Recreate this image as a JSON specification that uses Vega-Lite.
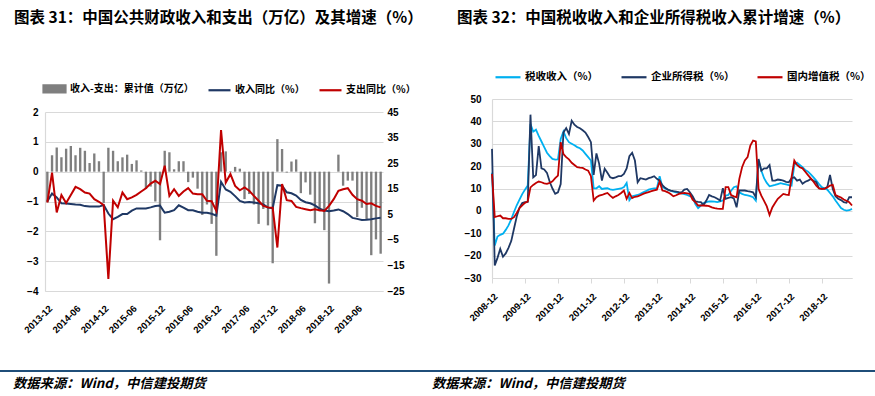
{
  "$schema": "https://vega.github.io/schema/vega-lite/v6.json",
  "padding": {"top": 10, "left": 0, "right": 0, "bottom": 0},
  "background": "white",
  "config": {
    "font": "Noto Sans CJK SC",
    "view": {"stroke": null},
    "axis": {"labelFont": "Liberation Sans", "labelFontWeight": "bold", "labelColor": "#000000", "labelFontSize": 10, "gridColor": "#D9D9D9", "gridWidth": 1.2, "domainColor": "#D9D9D9", "domainWidth": 1.2, "tickColor": "#D9D9D9"},
    "title": {"font": "Noto Sans CJK SC", "fontWeight": "bold", "fontSize": 15.5, "color": "#000000"},
    "legend": {"labelFont": "Noto Sans CJK SC", "labelFontWeight": "bold", "labelColor": "#000000"}
  },
  "datasets": {
    "L": [
      {"m":"2013-12","bar":-1.02,"rev":10.1,"exp":9.6},
      {"m":"2014-01","bar":0.55,"rev":13.1,"exp":21.3},
      {"m":"2014-02","bar":0.81,"rev":11.6,"exp":5.7},
      {"m":"2014-03","bar":0.48,"rev":9.3,"exp":12.5},
      {"m":"2014-04","bar":0.77,"rev":9.2,"exp":9.4},
      {"m":"2014-05","bar":0.86,"rev":9.0,"exp":12.5},
      {"m":"2014-06","bar":0.55,"rev":8.8,"exp":15.7},
      {"m":"2014-07","bar":0.8,"rev":8.7,"exp":14.8},
      {"m":"2014-08","bar":0.7,"rev":8.2,"exp":13.5},
      {"m":"2014-09","bar":0.29,"rev":8.0,"exp":13.1},
      {"m":"2014-10","bar":0.61,"rev":8.0,"exp":10.9},
      {"m":"2014-11","bar":0.35,"rev":8.0,"exp":9.9},
      {"m":"2014-12","bar":-1.05,"rev":8.6,"exp":8.6},
      {"m":"2015-01","bar":0.8,"rev":5.3,"exp":-20.3},
      {"m":"2015-02","bar":0.7,"rev":3.1,"exp":10.3},
      {"m":"2015-03","bar":0.35,"rev":4.0,"exp":7.7},
      {"m":"2015-04","bar":0.48,"rev":5.1,"exp":13.5},
      {"m":"2015-05","bar":0.57,"rev":5.1,"exp":10.9},
      {"m":"2015-06","bar":0.26,"rev":6.4,"exp":11.6},
      {"m":"2015-07","bar":0.38,"rev":7.3,"exp":12.6},
      {"m":"2015-08","bar":0.04,"rev":7.3,"exp":13.9},
      {"m":"2015-09","bar":-0.58,"rev":7.3,"exp":15.2},
      {"m":"2015-10","bar":-0.5,"rev":7.7,"exp":17.0},
      {"m":"2015-11","bar":-1.0,"rev":8.2,"exp":18.1},
      {"m":"2015-12","bar":-2.3,"rev":8.4,"exp":16.8},
      {"m":"2016-01","bar":0.7,"rev":5.6,"exp":24.0},
      {"m":"2016-02","bar":0.65,"rev":6.0,"exp":12.2},
      {"m":"2016-03","bar":0.08,"rev":6.6,"exp":14.8},
      {"m":"2016-04","bar":0.35,"rev":8.5,"exp":12.2},
      {"m":"2016-05","bar":0.35,"rev":7.6,"exp":13.9},
      {"m":"2016-06","bar":-0.35,"rev":6.6,"exp":15.2},
      {"m":"2016-07","bar":-0.2,"rev":6.6,"exp":13.1},
      {"m":"2016-08","bar":-0.57,"rev":6.0,"exp":12.8},
      {"m":"2016-09","bar":-1.45,"rev":5.6,"exp":12.8},
      {"m":"2016-10","bar":-1.1,"rev":5.6,"exp":10.3},
      {"m":"2016-11","bar":-1.75,"rev":5.2,"exp":10.1},
      {"m":"2016-12","bar":-2.82,"rev":4.5,"exp":6.3},
      {"m":"2017-01","bar":0.65,"rev":17.7,"exp":37.9},
      {"m":"2017-02","bar":0.68,"rev":14.7,"exp":17.4},
      {"m":"2017-03","bar":0.02,"rev":13.8,"exp":20.7},
      {"m":"2017-04","bar":0.16,"rev":12.1,"exp":16.1},
      {"m":"2017-05","bar":0.1,"rev":10.2,"exp":14.4},
      {"m":"2017-06","bar":-0.92,"rev":9.6,"exp":15.5},
      {"m":"2017-07","bar":-0.75,"rev":9.8,"exp":14.2},
      {"m":"2017-08","bar":-1.1,"rev":9.6,"exp":12.2},
      {"m":"2017-09","bar":-1.75,"rev":9.3,"exp":10.3},
      {"m":"2017-10","bar":-1.25,"rev":8.9,"exp":8.3},
      {"m":"2017-11","bar":-1.8,"rev":7.6,"exp":7.7},
      {"m":"2017-12","bar":-3.07,"rev":7.4,"exp":7.6},
      {"m":"2018-01","bar":1.09,"rev":16.4,"exp":-8.0},
      {"m":"2018-02","bar":0.76,"rev":16.2,"exp":16.8},
      {"m":"2018-03","bar":-0.03,"rev":13.6,"exp":10.5},
      {"m":"2018-04","bar":0.34,"rev":13.2,"exp":10.2},
      {"m":"2018-05","bar":0.41,"rev":12.3,"exp":7.9},
      {"m":"2018-06","bar":-0.72,"rev":10.6,"exp":7.4},
      {"m":"2018-07","bar":-0.36,"rev":9.7,"exp":7.0},
      {"m":"2018-08","bar":-0.77,"rev":9.3,"exp":6.6},
      {"m":"2018-09","bar":-1.73,"rev":8.5,"exp":7.0},
      {"m":"2018-10","bar":-1.33,"rev":7.2,"exp":6.6},
      {"m":"2018-11","bar":-1.96,"rev":6.5,"exp":6.3},
      {"m":"2018-12","bar":-3.75,"rev":6.2,"exp":8.3},
      {"m":"2019-01","bar":0.0,"rev":6.5,"exp":10.9},
      {"m":"2019-02","bar":0.57,"rev":6.9,"exp":14.2},
      {"m":"2019-03","bar":-0.47,"rev":6.2,"exp":14.8},
      {"m":"2019-04","bar":-0.3,"rev":5.1,"exp":15.2},
      {"m":"2019-05","bar":-0.3,"rev":3.6,"exp":12.6},
      {"m":"2019-06","bar":-1.52,"rev":3.2,"exp":10.9},
      {"m":"2019-07","bar":-1.21,"rev":2.8,"exp":10.3},
      {"m":"2019-08","bar":-1.6,"rev":2.9,"exp":9.0},
      {"m":"2019-09","bar":-2.8,"rev":3.1,"exp":9.3},
      {"m":"2019-10","bar":-2.27,"rev":3.4,"exp":8.3},
      {"m":"2019-11","bar":-2.75,"rev":3.6,"exp":7.7}
    ],
    "R": [
      {"d":"2008-12","tax":17,"cit":27.7,"vat":16.5},
      {"d":"2009-01","tax":-15.5,"cit":-24.4,"vat":-2.8},
      {"d":"2009-02","tax":-11.5,"cit":-21,"vat":-2.4},
      {"d":"2009-03","tax":-10.7,"cit":-17,"vat":-2.1},
      {"d":"2009-04","tax":-10.2,"cit":-20.5,"vat":-3.3},
      {"d":"2009-05","tax":-8.5,"cit":-19,"vat":-3.3},
      {"d":"2009-06","tax":-6.5,"cit":-16.5,"vat":-3.6},
      {"d":"2009-07","tax":-3.8,"cit":-13.5,"vat":-3.6},
      {"d":"2009-08","tax":-0.5,"cit":-8,"vat":-2.8},
      {"d":"2009-09","tax":2.5,"cit":-2.5,"vat":-0.9},
      {"d":"2009-10","tax":5,"cit":1.5,"vat":1.2},
      {"d":"2009-11","tax":7.5,"cit":3.5,"vat":2.5},
      {"d":"2009-12","tax":9.5,"cit":3.9,"vat":3.6},
      {"d":"2010-01","tax":11.3,"cit":4,"vat":4.2},
      {"d":"2010-02","tax":38.8,"cit":43,"vat":10.5},
      {"d":"2010-03","tax":35.4,"cit":15,"vat":11.6},
      {"d":"2010-04","tax":36.3,"cit":16,"vat":12.5},
      {"d":"2010-05","tax":33.5,"cit":29,"vat":13.1},
      {"d":"2010-06","tax":31,"cit":19,"vat":12.8},
      {"d":"2010-07","tax":28.5,"cit":18.5,"vat":12.3},
      {"d":"2010-08","tax":26,"cit":17,"vat":12.1},
      {"d":"2010-09","tax":24.5,"cit":13,"vat":12.5},
      {"d":"2010-10","tax":23.2,"cit":10,"vat":13.2},
      {"d":"2010-11","tax":22.9,"cit":7.6,"vat":14.6},
      {"d":"2010-12","tax":23,"cit":8.3,"vat":15.8},
      {"d":"2011-01","tax":32.1,"cit":12,"vat":30.7},
      {"d":"2011-02","tax":35.5,"cit":35,"vat":25.4},
      {"d":"2011-03","tax":32.5,"cit":37,"vat":24},
      {"d":"2011-04","tax":30.7,"cit":34.4,"vat":23},
      {"d":"2011-05","tax":30,"cit":40.3,"vat":21.5},
      {"d":"2011-06","tax":29.3,"cit":38.5,"vat":20.5},
      {"d":"2011-07","tax":28.5,"cit":37.5,"vat":19.5},
      {"d":"2011-08","tax":28,"cit":36.9,"vat":19.3},
      {"d":"2011-09","tax":27,"cit":36,"vat":19.2},
      {"d":"2011-10","tax":25.5,"cit":35,"vat":18.5},
      {"d":"2011-11","tax":24,"cit":33,"vat":18},
      {"d":"2011-12","tax":22.5,"cit":30.7,"vat":15.5},
      {"d":"2012-01","tax":10.1,"cit":16.1,"vat":4.6},
      {"d":"2012-02","tax":10.1,"cit":25.7,"vat":6.1},
      {"d":"2012-03","tax":11,"cit":21,"vat":6.8},
      {"d":"2012-04","tax":9.8,"cit":13.5,"vat":7.1},
      {"d":"2012-05","tax":10,"cit":18.8,"vat":7.6},
      {"d":"2012-06","tax":10.1,"cit":17,"vat":8},
      {"d":"2012-07","tax":9.6,"cit":15,"vat":6.8},
      {"d":"2012-08","tax":9.4,"cit":14.6,"vat":5.8},
      {"d":"2012-09","tax":9.6,"cit":15,"vat":6.5},
      {"d":"2012-10","tax":9.8,"cit":15.5,"vat":7.1},
      {"d":"2012-11","tax":10,"cit":15.5,"vat":8},
      {"d":"2012-12","tax":10.6,"cit":16.5,"vat":9.1},
      {"d":"2013-01","tax":12.5,"cit":19,"vat":5.4},
      {"d":"2013-02","tax":4.8,"cit":24.5,"vat":8},
      {"d":"2013-03","tax":6.5,"cit":26,"vat":5.7},
      {"d":"2013-04","tax":6.8,"cit":22.5,"vat":6.3},
      {"d":"2013-05","tax":7.1,"cit":12.8,"vat":6.5},
      {"d":"2013-06","tax":7.6,"cit":14.6,"vat":7},
      {"d":"2013-07","tax":8.3,"cit":14.3,"vat":7.6},
      {"d":"2013-08","tax":8.8,"cit":14,"vat":8},
      {"d":"2013-09","tax":9.5,"cit":14.6,"vat":8.4},
      {"d":"2013-10","tax":9.8,"cit":15,"vat":8.8},
      {"d":"2013-11","tax":10,"cit":15.5,"vat":9.2},
      {"d":"2013-12","tax":10.1,"cit":14.3,"vat":9.5},
      {"d":"2014-01","tax":15.5,"cit":13.5,"vat":13.1},
      {"d":"2014-02","tax":10.6,"cit":11.5,"vat":9.1},
      {"d":"2014-03","tax":10,"cit":10.3,"vat":8.8},
      {"d":"2014-04","tax":9.5,"cit":9.5,"vat":8.3},
      {"d":"2014-05","tax":9,"cit":9.1,"vat":7.5},
      {"d":"2014-06","tax":8.6,"cit":8.8,"vat":6.5},
      {"d":"2014-07","tax":8.3,"cit":8.6,"vat":7},
      {"d":"2014-08","tax":8,"cit":8.4,"vat":7.6},
      {"d":"2014-09","tax":7.8,"cit":8.3,"vat":7.8},
      {"d":"2014-10","tax":7.5,"cit":9.5,"vat":8},
      {"d":"2014-11","tax":7.1,"cit":9.8,"vat":7.8},
      {"d":"2014-12","tax":6.6,"cit":8.3,"vat":7.6},
      {"d":"2015-01","tax":6.1,"cit":6.5,"vat":5},
      {"d":"2015-02","tax":3,"cit":4.2,"vat":3.9},
      {"d":"2015-03","tax":1.2,"cit":4,"vat":2.4},
      {"d":"2015-04","tax":2.4,"cit":3.9,"vat":2.4},
      {"d":"2015-05","tax":3.5,"cit":2.7,"vat":2.4},
      {"d":"2015-06","tax":3.9,"cit":4.6,"vat":2.3},
      {"d":"2015-07","tax":4.2,"cit":7.1,"vat":2.1},
      {"d":"2015-08","tax":4.2,"cit":6.5,"vat":1.6},
      {"d":"2015-09","tax":4.1,"cit":6.1,"vat":1.2},
      {"d":"2015-10","tax":3.9,"cit":5.4,"vat":1},
      {"d":"2015-11","tax":4.2,"cit":4.6,"vat":0.9},
      {"d":"2015-12","tax":4.6,"cit":10.1,"vat":0.9},
      {"d":"2016-01","tax":6.8,"cit":5.4,"vat":10.6},
      {"d":"2016-02","tax":7.1,"cit":5.8,"vat":10.6},
      {"d":"2016-03","tax":9,"cit":6.1,"vat":7.1},
      {"d":"2016-04","tax":10.6,"cit":5.6,"vat":6.5},
      {"d":"2016-05","tax":11,"cit":1.6,"vat":6.1},
      {"d":"2016-06","tax":8.3,"cit":9.1,"vat":14.3},
      {"d":"2016-07","tax":7.6,"cit":9.1,"vat":19.5},
      {"d":"2016-08","tax":7.1,"cit":9.1,"vat":22.5},
      {"d":"2016-09","tax":6.9,"cit":8.8,"vat":24},
      {"d":"2016-10","tax":6.6,"cit":8.6,"vat":29.2},
      {"d":"2016-11","tax":6.1,"cit":8.3,"vat":31.4},
      {"d":"2016-12","tax":4.6,"cit":6.1,"vat":31},
      {"d":"2017-01","tax":22.5,"cit":23.2,"vat":9.8},
      {"d":"2017-02","tax":18,"cit":18,"vat":6.8},
      {"d":"2017-03","tax":14.6,"cit":19,"vat":4.5},
      {"d":"2017-04","tax":12.5,"cit":19,"vat":2},
      {"d":"2017-05","tax":11,"cit":20.5,"vat":-1.8},
      {"d":"2017-06","tax":11.3,"cit":13.5,"vat":1.5},
      {"d":"2017-07","tax":11.6,"cit":13.5,"vat":3.5},
      {"d":"2017-08","tax":12,"cit":14,"vat":5.4},
      {"d":"2017-09","tax":12.4,"cit":13.8,"vat":6.5},
      {"d":"2017-10","tax":12.1,"cit":13.5,"vat":7.6},
      {"d":"2017-11","tax":11.8,"cit":13,"vat":7.3},
      {"d":"2017-12","tax":11.5,"cit":12.8,"vat":7.1},
      {"d":"2018-01","tax":11.3,"cit":14.6,"vat":15},
      {"d":"2018-02","tax":20.5,"cit":15,"vat":22.5},
      {"d":"2018-03","tax":21.5,"cit":13.5,"vat":20.5},
      {"d":"2018-04","tax":20.5,"cit":14,"vat":19.5},
      {"d":"2018-05","tax":19.5,"cit":12.1,"vat":19},
      {"d":"2018-06","tax":18.3,"cit":13,"vat":17.5},
      {"d":"2018-07","tax":17.5,"cit":13.5,"vat":16},
      {"d":"2018-08","tax":16.3,"cit":14.3,"vat":14.5},
      {"d":"2018-09","tax":15,"cit":13.5,"vat":13},
      {"d":"2018-10","tax":13.5,"cit":12.8,"vat":11.3},
      {"d":"2018-11","tax":12,"cit":10.1,"vat":10},
      {"d":"2018-12","tax":10.6,"cit":9.8,"vat":9.8},
      {"d":"2019-01","tax":10,"cit":10,"vat":9.8},
      {"d":"2019-02","tax":9.5,"cit":10.6,"vat":10.5},
      {"d":"2019-03","tax":8,"cit":16.1,"vat":11.3},
      {"d":"2019-04","tax":6.5,"cit":9.8,"vat":11.6},
      {"d":"2019-05","tax":4.6,"cit":6.5,"vat":7.1},
      {"d":"2019-06","tax":3,"cit":5.4,"vat":6.5},
      {"d":"2019-07","tax":1.3,"cit":4.8,"vat":6},
      {"d":"2019-08","tax":0.5,"cit":3.9,"vat":5.1},
      {"d":"2019-09","tax":0.1,"cit":3.6,"vat":4.5},
      {"d":"2019-10","tax":0.3,"cit":6.1,"vat":3.9},
      {"d":"2019-11","tax":0.9,"cit":6.1,"vat":2.4}
    ]
  },
  "columns": 1,
  "align": "none",
  "spacing": 35,
  "resolve": {"scale": {"color": "independent"}, "legend": {"color": "independent"}},
  "concat": [
    {
      "columns": 2,
      "align": "none",
      "spacing": 34,
      "resolve": {"scale": {"color": "independent"}, "legend": {"color": "independent"}},
      "concat": [
        {
          "width": 338,
          "height": 192,
          "data": {"name": "L"},
          "title": {"text": "图表 31：中国公共财政收入和支出（万亿）及其增速（%）", "anchor": "start", "frame": "group", "dx": -31, "offset": 50},
          "encoding": {
            "x": {
              "field": "m", "type": "ordinal",
              "scale": {"type": "band", "paddingInner": 0, "paddingOuter": 0},
              "axis": {"title": null, "values": ["2013-12","2014-06","2014-12","2015-06","2015-12","2016-06","2016-12","2017-06","2017-12","2018-06","2018-12","2019-06"], "labelAngle": -45, "ticks": false, "labelPadding": 12, "labelFontSize": 9.5}
            }
          },
          "layer": [
            {
              "mark": {"type": "bar", "width": {"band": 0.5}},
              "encoding": {
                "y": {
                  "field": "bar", "type": "quantitative",
                  "scale": {"domain": [-4, 2], "nice": false, "range": [192, 13]},
                  "axis": {"title": "\u3000", "titleX": -45, "titleY": 13, "titleAngle": 0, "titleAlign": "left", "titleBaseline": "top", "titleFontSize": 10, "values": [-4,-3,-2,-1,0,1,2], "grid": true, "ticks": false, "labelPadding": 7}
                },
                "color": {
                  "datum": "bar", "type": "nominal",
                  "scale": {"domain": ["bar", "rev", "exp"], "range": ["#7F7F7F", "#1F3864", "#C00000"]},
                  "legend": {
                    "title": null, "orient": "none", "legendX": -3, "legendY": -23, "direction": "horizontal",
                    "symbolType": "stroke", "symbolSize": 484, "symbolStrokeWidth": 2.2, "labelFontSize": 10, "columnPadding": 10, "labelOffset": 3,
                    "labelExpr": "datum.value === 'bar' ? '收入-支出：累计值（万亿）' : (datum.value === 'rev' ? '收入同比（%）' : '支出同比（%）')",
                    "encode": {"symbols": {"update": {
                      "shape": {"signal": "datum.value === 'bar' ? 'M-1,-0.32H1V0.32H-1Z' : 'stroke'"},
                      "fill": {"signal": "datum.value === 'bar' ? '#7F7F7F' : 'transparent'"},
                      "stroke": {"signal": "datum.value === 'bar' ? 'transparent' : (datum.value === 'rev' ? '#1F3864' : '#C00000')"},
                      "opacity": {"value": 1}
                    }}}
                  }
                }
              }
            },
            {
              "transform": [{"fold": ["rev", "exp"], "as": ["s", "v"]}],
              "mark": {"type": "line", "strokeWidth": 2},
              "encoding": {
                "y": {
                  "field": "v", "type": "quantitative",
                  "scale": {"domain": [-25, 45], "nice": false, "range": [192, 13]},
                  "axis": {"orient": "right", "title": null, "values": [45,35,25,15,5,-5,-15,-25], "grid": false, "ticks": false, "domain": false, "labelPadding": 4}
                },
                "color": {"field": "s", "type": "nominal", "legend": null}
              }
            }
          ],
          "resolve": {"scale": {"y": "independent", "color": "shared"}, "legend": {"color": "shared"}}
        },
        {
          "width": 360,
          "height": 179,
          "data": {"name": "R"},
          "title": {"text": "图表 32：中国税收收入和企业所得税收入累计增速（%）", "anchor": "start", "frame": "group", "dx": -35, "offset": 37},
          "transform": [{"fold": ["tax", "cit", "vat"], "as": ["s", "v"]}],
          "mark": {"type": "line", "strokeWidth": 1.8},
          "encoding": {
            "x": {
              "field": "d", "type": "ordinal",
              "scale": {"type": "point", "padding": 0},
              "axis": {"title": null, "values": ["2008-12","2009-12","2010-12","2011-12","2012-12","2013-12","2014-12","2015-12","2016-12","2017-12","2018-12"], "labelAngle": -45, "ticks": true, "tickSize": 5, "labelPadding": 8, "labelFontSize": 9.5}
            },
            "y": {
              "field": "v", "type": "quantitative",
              "scale": {"domain": [-30, 50], "nice": false},
              "axis": {"title": null, "values": [-30,-20,-10,0,10,20,30,40,50], "grid": true, "ticks": false, "labelPadding": 11}
            },
            "color": {
              "field": "s", "type": "nominal",
              "scale": {"domain": ["tax", "cit", "vat"], "range": ["#00B0F0", "#1F3864", "#C00000"]},
              "legend": {
                "title": null, "orient": "none", "legendX": 2, "legendY": -36, "direction": "horizontal",
                "symbolType": "stroke", "symbolSize": 625, "symbolStrokeWidth": 2.2, "labelFontSize": 10.5, "columnPadding": 18, "labelOffset": 3,
                "labelExpr": "datum.value === 'tax' ? '税收收入（%）' : (datum.value === 'cit' ? '企业所得税（%）' : '国内增值税（%）')"
              }
            }
          }
        }
      ]
    },
    {
      "spacing": 0,
      "hconcat": [
        {
          "width": 387, "height": 2,
          "data": {"values": [{}]},
          "mark": {"type": "rect", "color": "#1F4E79", "clip": false},
          "encoding": {
            "x": {"datum": 0, "type": "quantitative", "scale": {"domain": [0, 1], "nice": false, "range": [-45, 387]}, "axis": null},
            "x2": {"datum": 1},
            "y": {"datum": 0, "type": "quantitative", "scale": {"domain": [0, 1], "nice": false}, "axis": null},
            "y2": {"datum": 1}
          },
          "title": {"text": "数据来源：Wind，中信建投期货", "orient": "bottom", "anchor": "start", "frame": "group", "dx": -32, "offset": 5, "fontSize": 13.3, "fontStyle": "italic", "fontWeight": "bold"}
        },
        {
          "width": 443, "height": 2,
          "data": {"values": [{}]},
          "mark": {"type": "rect", "color": "#1F4E79"},
          "encoding": {
            "x": {"datum": 0, "type": "quantitative", "scale": {"domain": [0, 1], "nice": false}, "axis": null},
            "x2": {"datum": 1},
            "y": {"datum": 0, "type": "quantitative", "scale": {"domain": [0, 1], "nice": false}, "axis": null},
            "y2": {"datum": 1}
          },
          "title": {"text": "数据来源：Wind，中信建投期货", "orient": "bottom", "anchor": "start", "frame": "group", "dx": 0, "offset": 5, "fontSize": 13.3, "fontStyle": "italic", "fontWeight": "bold"}
        }
      ]
    }
  ]
}
